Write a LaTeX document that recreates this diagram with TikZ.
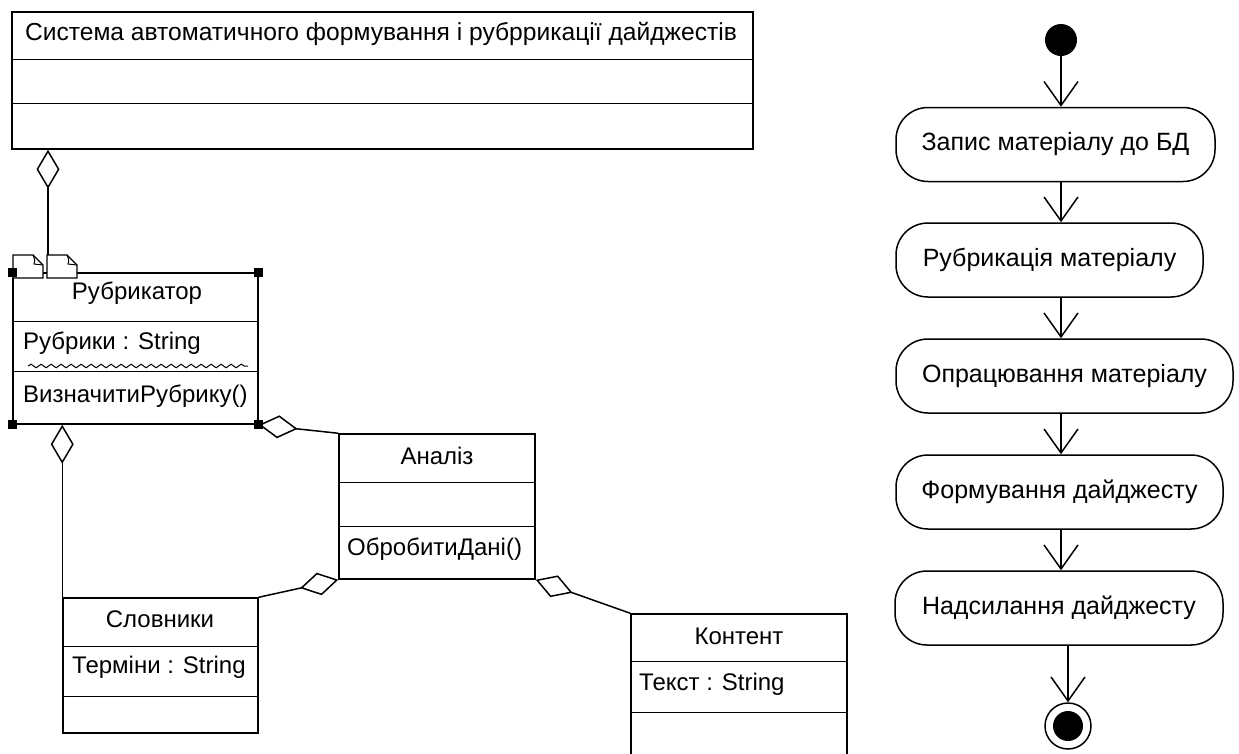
\documentclass[tikz,border=0pt]{standalone}
\usepackage{fontspec}
\setmainfont{Liberation Sans}
\usetikzlibrary{arrows.meta,decorations.pathmorphing,calc}
\begin{document}
\begin{tikzpicture}[x=1pt,y=-1pt,
  lw/.style={line width=1.5pt},
  cls/.style={draw,lw,inner sep=0pt,fill=white},
  txt/.style={inner sep=0pt,font=\fontsize{24}{28}\selectfont},
  act/.style={draw,lw,rounded corners=32pt,inner sep=0pt,font=\fontsize{25}{29}\selectfont,minimum height=74pt},
  agg/.style={lw,-{Diamond[open,length=39pt,width=23pt,line width=1.5pt]}},
  flow/.style={lw,-{Straight Barb[length=24pt,width=34pt,line width=1.5pt]}},
  handle/.style={fill=black,inner sep=0pt,minimum size=9pt},
  div/.style={lw}
]
\useasboundingbox (0,0) rectangle (1239,753);
\clip (0,0) rectangle (1239,753);

% ---- system class
\node[cls,minimum width=741pt,minimum height=137pt] (sys) at (382.5,80.5) {};
\draw[div] ([yshift=-48pt]sys.north west) -- ([yshift=-48pt]sys.north east);
\draw[div] ([yshift=-92pt]sys.north west) -- ([yshift=-92pt]sys.north east);
\node[txt,font=\fontsize{24.6}{28}\selectfont] (sysname) at (381,34) {Система автоматичного формування і рубррикації дайджестів};

% ---- Rubrikator
\node[cls,minimum width=245pt,minimum height=151pt] (rub) at (135.5,348.5) {};
\draw[div] ([yshift=-49pt]rub.north west) -- ([yshift=-49pt]rub.north east);
\draw[div] ([yshift=-99pt]rub.north west) -- ([yshift=-99pt]rub.north east);
\node[txt] (rubname) at (137,293) {Рубрикатор};
\node[txt,anchor=west] (rubattr) at (23,343) {Рубрики : String};
\node[txt,anchor=west] (rubop) at (23,396) {ВизначитиРубрику()};
\draw[line width=1pt,decorate,decoration={snake,amplitude=1.8pt,segment length=10pt}] (28,366) -- (248,366);

% ---- Slovnyky
\node[cls,minimum width=195pt,minimum height=135pt] (slov) at (160.5,665.5) {};
\draw[div] ([yshift=-49pt]slov.north west) -- ([yshift=-49pt]slov.north east);
\draw[div] ([yshift=-99pt]slov.north west) -- ([yshift=-99pt]slov.north east);
\node[txt] (slovname) at (160,619) {Словники};
\node[txt,anchor=west] (slovattr) at (72,667) {Терміни : String};

% ---- Analiz
\node[cls,minimum width=196pt,minimum height=145pt] (an) at (437,506.5) {};
\draw[div] ([yshift=-49pt]an.north west) -- ([yshift=-49pt]an.north east);
\draw[div] ([yshift=-93pt]an.north west) -- ([yshift=-93pt]an.north east);
\node[txt] (anname) at (437,456) {Аналіз};
\node[txt,anchor=west] (anop) at (347,549) {ОбробитиДані()};

% ---- Kontent
\node[cls,minimum width=216pt,minimum height=170pt] (kon) at (739,699) {};
\draw[div] ([yshift=-48pt]kon.north west) -- ([yshift=-48pt]kon.north east);
\draw[div] ([yshift=-99pt]kon.north west) -- ([yshift=-99pt]kon.north east);
\node[txt] (konname) at (739,636) {Контент};
\node[txt,anchor=west] (konattr) at (639,684) {Текст : String};

% ---- aggregations
\coordinate (rubtop) at (48,256);
\draw[agg] (rubtop) -- (sys.south -| rubtop);
\draw[agg] (an.north west) -- (rub.south east);
\draw[agg] (slov.north west) -- (slov.north west |- rub.south);
\draw[agg] (slov.north east) -- (an.south west);
\draw[agg] (kon.north west) -- (an.south east);

% ---- notes on Rubrikator
\foreach \nx in {13,47}{
  \draw[line width=1.2pt,fill=white] (\nx,255) -- (\nx+20,255) -- (\nx+30,265) -- (\nx+30,278) -- (\nx,278) -- cycle;
  \draw[line width=1pt] (\nx+20,255) .. controls (\nx+22,260) .. (\nx+21,264) -- (\nx+30,265);
}
% ---- selection handles
\node[handle] (h1) at (rub.north west) {};
\node[handle] (h2) at (rub.north east) {};
\node[handle] (h3) at (rub.south west) {};
\node[handle] (h4) at (rub.south east) {};

% ---- activity diagram
\node[circle,fill=black,inner sep=0pt,minimum size=32pt] (st) at (1061,40) {};
\node[act,minimum width=319pt] (a1) at (1055.5,144.5) {Запис матеріалу до БД};
\node[act,minimum width=307pt] (a2) at (1049.5,260) {Рубрикація матеріалу};
\node[act,minimum width=337pt] (a3) at (1064.5,376) {Опрацювання матеріалу};
\node[act,minimum width=327pt] (a4) at (1059.5,492) {Формування дайджесту};
\node[act,minimum width=328pt] (a5) at (1059,608) {Надсилання дайджесту};
\node[circle,draw,lw,inner sep=0pt,minimum size=46pt] (fin) at (1068,726) {};
\node[circle,fill=black,inner sep=0pt,minimum size=30pt] (finin) at (fin.center) {};

\draw[flow] (st) -- (st |- a1.north);
\draw[flow] (a1.south -| st) -- (a2.north -| st);
\draw[flow] (a2.south -| st) -- (a3.north -| st);
\draw[flow] (a3.south -| st) -- (a4.north -| st);
\draw[flow] (a4.south -| st) -- (a5.north -| st);
\draw[flow] (a5.south -| fin) -- (fin.north);
\end{tikzpicture}
\end{document}
